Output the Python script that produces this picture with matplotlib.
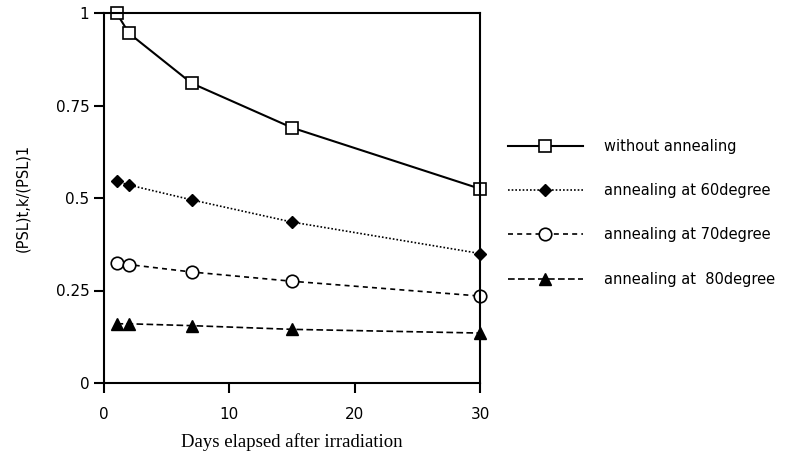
import matplotlib
matplotlib.use("Agg")
import matplotlib.pyplot as plt

days = [1, 2, 7, 15, 30]
without_annealing = [1.0, 0.945, 0.81, 0.69, 0.525]
anneal_60 = [0.545, 0.535, 0.495, 0.435, 0.35]
anneal_70 = [0.325, 0.32, 0.30, 0.275, 0.235]
anneal_80 = [0.16, 0.16, 0.155, 0.145, 0.135]

labels = ["without annealing", "annealing at 60degree",
          "annealing at 70degree", "annealing at  80degree"]

fig = plt.figure(figsize=(8.08, 4.54), dpi=100)
ax = fig.add_axes([104 / 808, 1 - 383 / 454, 376 / 808, 370 / 454])

ax.plot(days, without_annealing, color="black", lw=1.5, marker="s", ms=9,
        mfc="white", mec="black", mew=1.2, label=labels[0])
ax.plot(days, anneal_60, color="black", lw=1.2, ls=(0, (1, 1.2)), marker="D", ms=6.5,
        mfc="black", mec="black", label=labels[1])
ax.plot(days, anneal_70, color="black", lw=1.2, ls=(0, (3, 2.5)), marker="o", ms=9,
        mfc="white", mec="black", mew=1.2, label=labels[2])
ax.plot(days, anneal_80, color="black", lw=1.2, ls=(0, (4, 2)), marker="^", ms=9,
        mfc="black", mec="black", label=labels[3])

ax.set_xlim(0, 30)
ax.set_ylim(0, 1)
ax.set_xticks([0, 10, 20, 30])
ax.set_yticks([0, 0.25, 0.5, 0.75, 1])
ax.set_yticklabels(["0", "0.25", "0.5", "0.75", "1"])
ax.tick_params(direction="out", length=7, width=1.5, labelsize=11)
ax.tick_params(axis="x", pad=10)
for s in ax.spines.values():
    s.set_linewidth(1.5)
for m in ax.lines:
    m.set_clip_on(False)

ax.set_ylabel("(PSL)t,k/(PSL)1", fontsize=10.5, labelpad=18)
ax.set_xlabel("Days elapsed after irradiation", fontsize=13.5,
              family="Liberation Serif", labelpad=8)

fig.legend(loc="upper left", bbox_to_anchor=(495 / 808, 1 - 126 / 454),
           frameon=False, fontsize=10.5, handlelength=5.1, handletextpad=1.5,
           labelspacing=2.0)

fig.savefig("out.png", dpi=100)
